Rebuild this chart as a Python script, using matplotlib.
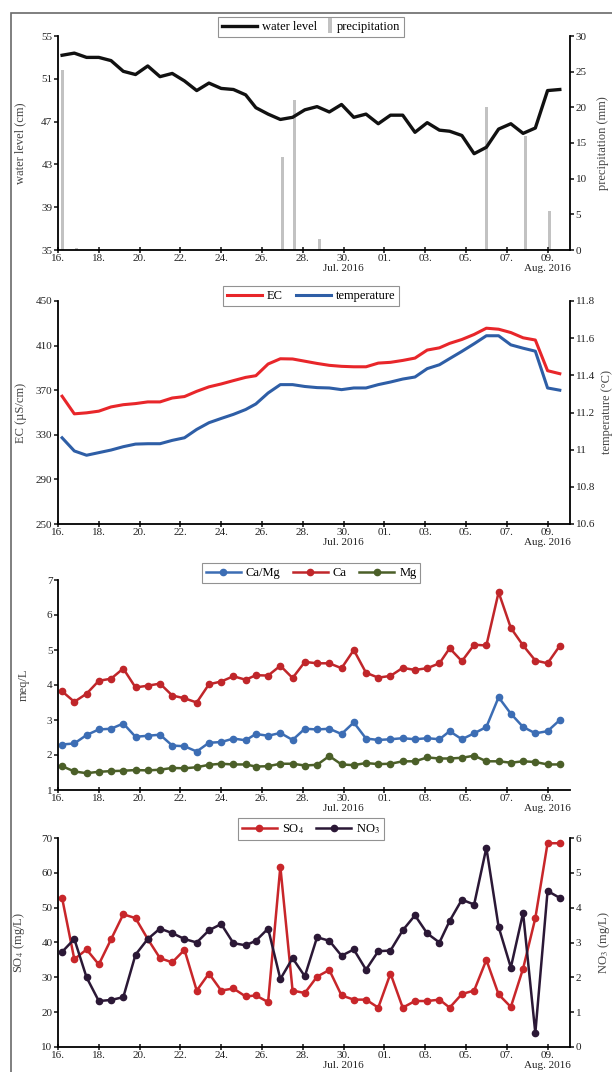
import matplotlib
matplotlib.use("Agg")
import matplotlib.pyplot as plt
from matplotlib.patches import Rectangle
from matplotlib.legend_handler import HandlerPatch

plt.rcParams['font.family'] = ['Liberation Serif', 'DejaVu Serif']
plt.rcParams['mathtext.fontset'] = 'stix'
plt.rcParams['font.size'] = 9

# days since 16 Jul 2016
t = [0.2, 0.8, 1.4, 2.0, 2.6, 3.2, 3.8, 4.4, 5.0, 5.6, 6.2, 6.8, 7.4, 8.0,
     8.6, 9.2, 9.7, 10.3, 10.9, 11.5, 12.1, 12.7, 13.3, 13.9, 14.5, 15.1,
     15.7, 16.3, 16.9, 17.5, 18.1, 18.7, 19.2, 19.8, 20.4, 21.0, 21.6, 22.2,
     22.8, 23.4, 24.0, 24.6]

tick_days = [0, 2, 4, 6, 8, 10, 12, 14, 16, 18, 20, 22, 24]
tick_labels = ['16.', '18.', '20.', '22.', '24.', '26.', '28.', '30.',
               '01.', '03.', '05.', '07.', '09.']

water_level = [53.2, 53.4, 53.0, 53.0, 52.7, 51.7, 51.4, 52.2, 51.2, 51.5,
               50.8, 49.9, 50.6, 50.1, 50.0, 49.5, 48.3, 47.7, 47.2, 47.4,
               48.1, 48.4, 47.9, 48.6, 47.4, 47.7, 46.8, 47.6, 47.6, 46.0,
               46.9, 46.2, 46.1, 45.7, 44.0, 44.6, 46.3, 46.8, 45.9, 46.4,
               49.9, 50.0]
rain_days = [0.2, 0.9, 11.0, 11.6, 12.8, 21.0, 22.9, 24.1]
rain_mm = [25.3, 0.3, 13.0, 21.0, 1.5, 20.0, 16.0, 5.5]

ec = [364.6, 348.8, 349.7, 351.2, 355.0, 357.0, 358.0, 359.5, 359.5, 363.0,
      364.3, 369.0, 373.0, 375.6, 378.6, 381.5, 383.0, 393.5, 398.2, 398.0,
      396.0, 394.0, 392.3, 391.4, 391.0, 391.0, 394.3, 395.0, 396.7, 398.8,
      406.0, 408.0, 412.0, 415.5, 420.0, 425.6, 424.7, 421.7, 417.0, 415.0,
      387.5, 384.8]
temperature = [11.064, 10.993, 10.970, 10.984, 10.998, 11.016, 11.030, 11.032,
               11.032, 11.050, 11.064, 11.109, 11.145, 11.168, 11.190, 11.216,
               11.246, 11.305, 11.350, 11.350, 11.340, 11.334, 11.332, 11.323,
               11.332, 11.332, 11.350, 11.364, 11.380, 11.391, 11.436, 11.457,
               11.490, 11.529, 11.570, 11.613, 11.613, 11.564, 11.546, 11.530,
               11.332, 11.320]

ca_mg = [2.30, 2.33, 2.57, 2.73, 2.75, 2.90, 2.52, 2.55, 2.58, 2.27, 2.25,
         2.10, 2.35, 2.37, 2.47, 2.42, 2.60, 2.55, 2.63, 2.43, 2.75, 2.73,
         2.75, 2.60, 2.93, 2.47, 2.43, 2.45, 2.48, 2.45, 2.48, 2.45, 2.68,
         2.45, 2.62, 2.80, 3.65, 3.18, 2.80, 2.62, 2.68, 3.00]
ca = [3.82, 3.52, 3.75, 4.12, 4.18, 4.47, 3.93, 3.98, 4.04, 3.70, 3.62, 3.50,
      4.02, 4.10, 4.25, 4.15, 4.28, 4.27, 4.55, 4.20, 4.66, 4.62, 4.62, 4.48,
      5.00, 4.35, 4.21, 4.26, 4.49, 4.43, 4.48, 4.62, 5.05, 4.68, 5.15, 5.13,
      6.65, 5.63, 5.13, 4.70, 4.62, 5.12]
mg = [1.68, 1.53, 1.48, 1.52, 1.54, 1.55, 1.57, 1.56, 1.58, 1.63, 1.62, 1.65,
      1.72, 1.75, 1.73, 1.73, 1.67, 1.68, 1.75, 1.75, 1.70, 1.72, 1.97, 1.73,
      1.71, 1.77, 1.74, 1.75, 1.82, 1.82, 1.93, 1.90, 1.90, 1.92, 1.98, 1.82,
      1.82, 1.78, 1.82, 1.80, 1.73, 1.73]

so4 = [52.8, 35.2, 38.0, 33.7, 40.9, 48.1, 47.0, 41.0, 35.5, 34.3, 37.9,
       26.2, 31.1, 26.2, 26.8, 24.5, 24.8, 22.9, 61.8, 26.2, 25.5, 30.2,
       32.1, 24.8, 23.6, 23.6, 21.3, 31.1, 21.3, 23.2, 23.2, 23.6, 21.3,
       25.2, 26.2, 35.0, 25.1, 21.5, 32.5, 47.0, 68.5, 68.5]
no3 = [2.73, 3.10, 2.00, 1.32, 1.35, 1.43, 2.65, 3.10, 3.40, 3.27, 3.10,
       3.00, 3.35, 3.53, 2.98, 2.92, 3.05, 3.40, 1.95, 2.55, 2.03, 3.15,
       3.05, 2.62, 2.80, 2.22, 2.75, 2.77, 3.35, 3.78, 3.26, 3.00, 3.62,
       4.23, 4.09, 5.72, 3.45, 2.28, 3.85, 0.40, 4.48, 4.28]

W, H = 612, 1072
FS = 9      # legend / axis labels
TFS = 8     # tick labels
fig = plt.figure(figsize=(W / 100, H / 100), dpi=100)

# outer frame of the figure
fig.patches.append(Rectangle((11 / W, -0.05), 1.1, 1.05 - 13 / H,
                             transform=fig.transFigure, fill=False,
                             edgecolor='#6a6a6a', linewidth=1.2))


def make_axes(top, bottom, right_axis=True):
    ax = fig.add_axes([58 / W, 1 - bottom / H, 512 / W, (bottom - top) / H])
    ax.spines['top'].set_visible(False)
    ax.spines['right'].set_visible(False)
    for s in ['left', 'bottom']:
        ax.spines[s].set_linewidth(1.3)
    ax.set_xlim(0, 25.1)
    ax.set_xticks(tick_days)
    ax.set_xticklabels(tick_labels)
    ax.tick_params(axis='x', direction='inout', length=4, width=1.2, pad=1,
                   labelsize=TFS, colors='#222222')
    ax.tick_params(axis='y', direction='out', length=3, width=1.2, pad=1,
                   labelsize=TFS, colors='#222222')
    for day, txt in [(14, 'Jul. 2016'), (24, 'Aug. 2016')]:
        ax.annotate(txt, xy=(day, 0), xycoords=('data', 'axes fraction'),
                    xytext=(0, -10), textcoords='offset points',
                    ha='center', va='top', fontsize=TFS, color='#222222')
    ax2 = None
    if right_axis:
        ax2 = ax.twinx()
        ax2.spines['top'].set_visible(False)
        ax2.spines['left'].set_visible(False)
        ax2.spines['bottom'].set_visible(False)
        ax2.spines['right'].set_linewidth(1.3)
        ax2.tick_params(axis='y', direction='out', length=3, width=1.2, pad=1,
                        labelsize=TFS, colors='#222222')
    return ax, ax2


def bar_handle(legend, orig_handle, xdescent, ydescent, width, height, fontsize):
    return Rectangle((width - xdescent - 3, -ydescent - 2), 3, height + 4)


def legend(ax, handles, labels, cy, **kw):
    opts = dict(handlelength=2.8, columnspacing=1.0, handletextpad=0.4)
    opts.update(kw)
    leg = ax.legend(handles, labels, loc='center', bbox_to_anchor=(311 / W, 1 - cy / H),
                    bbox_transform=fig.transFigure, ncol=len(handles), frameon=True,
                    fancybox=False, edgecolor='#777777', fontsize=FS,
                    borderpad=0.3, borderaxespad=0, **opts)
    leg.get_frame().set_linewidth(0.8)
    leg.set_zorder(10)
    return leg


# panel 1: water level and precipitation
ax1, ax1r = make_axes(36, 250)
bars = ax1r.bar(rain_days, rain_mm, width=0.15, color='#c2c2c2', zorder=1)
ax1r.set_ylim(0, 30)
ax1r.set_yticks([0, 5, 10, 15, 20, 25, 30])
ax1.set_zorder(ax1r.get_zorder() + 1)
ax1.patch.set_visible(False)
wl_line, = ax1.plot(t, water_level, color='#111111', linewidth=2.4)
ax1.set_ylim(35, 55)
ax1.set_yticks([35, 39, 43, 47, 51, 55])
ax1.set_ylabel('water level (cm)', fontsize=FS, color='#444444')
ax1.yaxis.set_label_coords(-0.062, 0.5)
ax1r.set_ylabel('precipitation (mm)', fontsize=FS, color='#444444')
ax1r.yaxis.set_label_coords(1.053, 0.5)
legend(ax1, [wl_line, bars[0]], ['water level', 'precipitation'], 27,
       columnspacing=-1.6, handler_map={bars[0]: HandlerPatch(patch_func=bar_handle)})

# panel 2: EC and temperature
ax2, ax2r = make_axes(301, 524)
ec_line, = ax2.plot(t, ec, color='#e8262a', linewidth=2.2)
t_line, = ax2r.plot(t, temperature, color='#2e5ea6', linewidth=2.2)
ax2.set_ylim(250, 450)
ax2.set_yticks([250, 290, 330, 370, 410, 450])
ax2r.set_ylim(10.6, 11.8)
ax2r.set_yticks([10.6, 10.8, 11.0, 11.2, 11.4, 11.6, 11.8])
ax2r.set_yticklabels(['10.6', '10.8', '11', '11.2', '11.4', '11.6', '11.8'])
ax2.set_ylabel('EC (µS/cm)', fontsize=FS, color='#444444')
ax2.yaxis.set_label_coords(-0.06, 0.5)
ax2r.set_ylabel('temperature (°C)', fontsize=FS, color='#444444')
ax2r.yaxis.set_label_coords(1.06, 0.5)
legend(ax2, [ec_line, t_line], ['EC', 'temperature'], 296)

# panel 3: Ca/Mg, Ca, Mg
ax3, _ = make_axes(580, 790, right_axis=False)
mk = dict(marker='o', markersize=4.5, linewidth=1.8)
l_camg, = ax3.plot(t, ca_mg, color='#3c6db4', **mk)
l_ca, = ax3.plot(t, ca, color='#c0262a', **mk)
l_mg, = ax3.plot(t, mg, color='#4b5f28', **mk)
ax3.set_ylim(1, 7)
ax3.set_yticks([1, 2, 3, 4, 5, 6, 7])
ax3.set_ylabel('meq/L', fontsize=FS, color='#444444')
ax3.yaxis.set_label_coords(-0.055, 0.5)
legend(ax3, [l_camg, l_ca, l_mg], ['Ca/Mg', 'Ca', 'Mg'], 573)

# panel 4: SO4 and NO3
ax4, ax4r = make_axes(838, 1047)
l_so4, = ax4.plot(t, so4, color='#c8262a', **mk)
l_no3, = ax4r.plot(t, no3, color='#2b1836', **mk)
ax4.set_ylim(10, 70)
ax4.set_yticks([10, 20, 30, 40, 50, 60, 70])
ax4r.set_ylim(0, 6)
ax4r.set_yticks([0, 1, 2, 3, 4, 5, 6])
ax4.set_ylabel('SO$_4$ (mg/L)', fontsize=FS, color='#444444')
ax4.yaxis.set_label_coords(-0.06, 0.5)
ax4r.set_ylabel('NO$_3$ (mg/L)', fontsize=FS, color='#444444')
ax4r.yaxis.set_label_coords(1.05, 0.5)
legend(ax4, [l_so4, l_no3], ['SO$_4$', 'NO$_3$'], 829)

fig.savefig('out.png', dpi=100)
